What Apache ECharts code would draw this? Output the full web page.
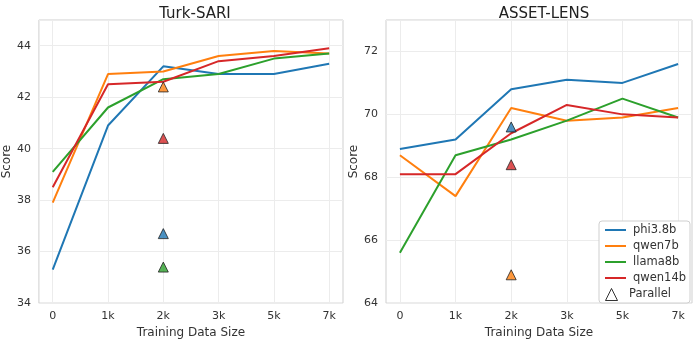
<!DOCTYPE html>
<html>
<head>
<meta charset="utf-8">
<script src="https://cdn.jsdelivr.net/npm/echarts@6/dist/echarts.min.js"></script>
<style>
html,body{margin:0;padding:0;background:#fff;}
#container{width:698px;height:344px;}
</style>
</head>
<body>
<div id="container"></div>
<script>
var sizes = ['0', '1k', '2k', '3k', '5k', '7k'];
var models = ['phi3.8b', 'qwen7b', 'llama8b', 'qwen14b'];
var colors = ['#1f77b4', '#ff7f0e', '#2ca02c', '#d62728'];

// Turk-SARI
var turkPhi = [35.3, 40.9, 43.2, 42.9, 42.9, 43.3];
var turkQwen7 = [37.9, 42.9, 43.0, 43.6, 43.8, 43.7];
var turkLlama = [39.1, 41.6, 42.7, 42.9, 43.5, 43.7];
var turkQwen14 = [38.5, 42.5, 42.6, 43.4, 43.6, 43.9];
var turkParallel = [36.7, 42.4, 35.4, 40.4]; // at 2k, per model

// ASSET-LENS
var assetPhi = [68.9, 69.2, 70.8, 71.1, 71.0, 71.6];
var assetQwen7 = [68.7, 67.4, 70.2, 69.8, 69.9, 70.2];
var assetLlama = [65.6, 68.7, 69.2, 69.8, 70.5, 69.9];
var assetQwen14 = [68.1, 68.1, 69.4, 70.3, 70.0, 69.9];
var assetParallel = [69.6, 64.9, null, 68.4];

var parallelAt = 2; // index of '2k'
var font = 'DejaVu Sans';

function xAxisFor(idx) {
  return {
    type: 'value', gridIndex: idx, min: -0.25, max: 5.25,
    name: 'Training Data Size', nameLocation: 'middle', nameGap: 22,
    nameTextStyle: {fontFamily: font, fontSize: 12, color: '#333'},
    axisLine: {show: false}, axisTick: {show: false, customValues: [0, 1, 2, 3, 4, 5]},
    axisLabel: {customValues: [0, 1, 2, 3, 4, 5], fontFamily: font, fontSize: 11, color: '#333', margin: 8,
      formatter: function (v) { return sizes[Math.round(v)]; }},
    splitLine: {show: true, lineStyle: {color: '#ececec', width: 1}}
  };
}
function yAxisFor(idx, mn, mx) {
  return {
    type: 'value', gridIndex: idx, min: mn, max: mx, interval: 2,
    name: 'Score', nameLocation: 'middle', nameGap: 21,
    nameTextStyle: {fontFamily: font, fontSize: 12, color: '#333'},
    axisLine: {show: false}, axisTick: {show: false},
    axisLabel: {fontFamily: font, fontSize: 11, color: '#333', margin: 8, showMaxLabel: false},
    splitLine: {show: true, lineStyle: {color: '#ececec', width: 1}}
  };
}
function pts(arr) {
  return arr.map(function (v, i) { return [i, v]; });
}
function lineSeries(idx, name, arr, c) {
  return {
    type: 'line', name: name, xAxisIndex: idx, yAxisIndex: idx,
    data: pts(arr), symbol: 'none', color: c,
    lineStyle: {width: 2, color: c}, z: 2, animation: false
  };
}
function parallelSeries(idx, arr) {
  var d = [];
  arr.forEach(function (v, i) {
    if (v !== null) d.push({value: [parallelAt, v], itemStyle: {color: colors[i]}});
  });
  return {
    type: 'scatter', name: 'Parallel', xAxisIndex: idx, yAxisIndex: idx,
    symbol: 'triangle', symbolSize: 10, data: d, z: 5, animation: false,
    itemStyle: {borderColor: '#222', borderWidth: 1}
  };
}

var myChart = echarts.init(document.getElementById('container'));
myChart.setOption({
  backgroundColor: '#fff',
  animation: false,
  title: [
    {text: 'Turk-SARI', left: 190, top: 2, textAlign: 'center',
      textStyle: {fontFamily: font, fontSize: 15, fontWeight: 'normal', color: '#222'}},
    {text: 'ASSET-LENS', left: 539, top: 2, textAlign: 'center',
      textStyle: {fontFamily: font, fontSize: 15, fontWeight: 'normal', color: '#222'}}
  ],
  grid: [
    {left: 38, top: 20, width: 305, height: 289, show: true, borderColor: '#cfcfcf', borderWidth: 1, backgroundColor: '#fff'},
    {left: 386, top: 20, width: 306, height: 289, show: true, borderColor: '#cfcfcf', borderWidth: 1, backgroundColor: '#fff'}
  ],
  xAxis: [xAxisFor(0), xAxisFor(1)],
  yAxis: [yAxisFor(0, 34, 45), yAxisFor(1, 64, 73)],
  legend: [
    {
      // model lines; its box also frames the Parallel row below
      orient: 'vertical', left: 599, top: 221,
      backgroundColor: '#fff', borderColor: '#cfcfcf', borderWidth: 1, borderRadius: 3,
      padding: [3, 4, 19, 6], itemGap: 4, itemWidth: 21, itemHeight: 2, icon: 'rect',
      textStyle: {fontFamily: font, fontSize: 11.5, color: '#333', padding: [0, 0, 0, 2]},
      data: models
    },
    {
      orient: 'vertical', left: 599, top: 288, z: 10,
      padding: [0, 4, 0, 6], itemWidth: 21, itemHeight: 12,
      textStyle: {fontFamily: font, fontSize: 11.5, color: '#333', padding: [0, 0, 0, 2]},
      data: [{name: 'Parallel', icon: 'path://M5,0L10,10L0,10Z',
        itemStyle: {color: '#fff', borderColor: '#000', borderWidth: 1}}]
    }
  ],
  series: [
    lineSeries(0, models[0], turkPhi, colors[0]),
    lineSeries(0, models[1], turkQwen7, colors[1]),
    lineSeries(0, models[2], turkLlama, colors[2]),
    lineSeries(0, models[3], turkQwen14, colors[3]),
    parallelSeries(0, turkParallel),
    lineSeries(1, models[0], assetPhi, colors[0]),
    lineSeries(1, models[1], assetQwen7, colors[1]),
    lineSeries(1, models[2], assetLlama, colors[2]),
    lineSeries(1, models[3], assetQwen14, colors[3]),
    parallelSeries(1, assetParallel)
  ]
});
</script>
</body>
</html>
